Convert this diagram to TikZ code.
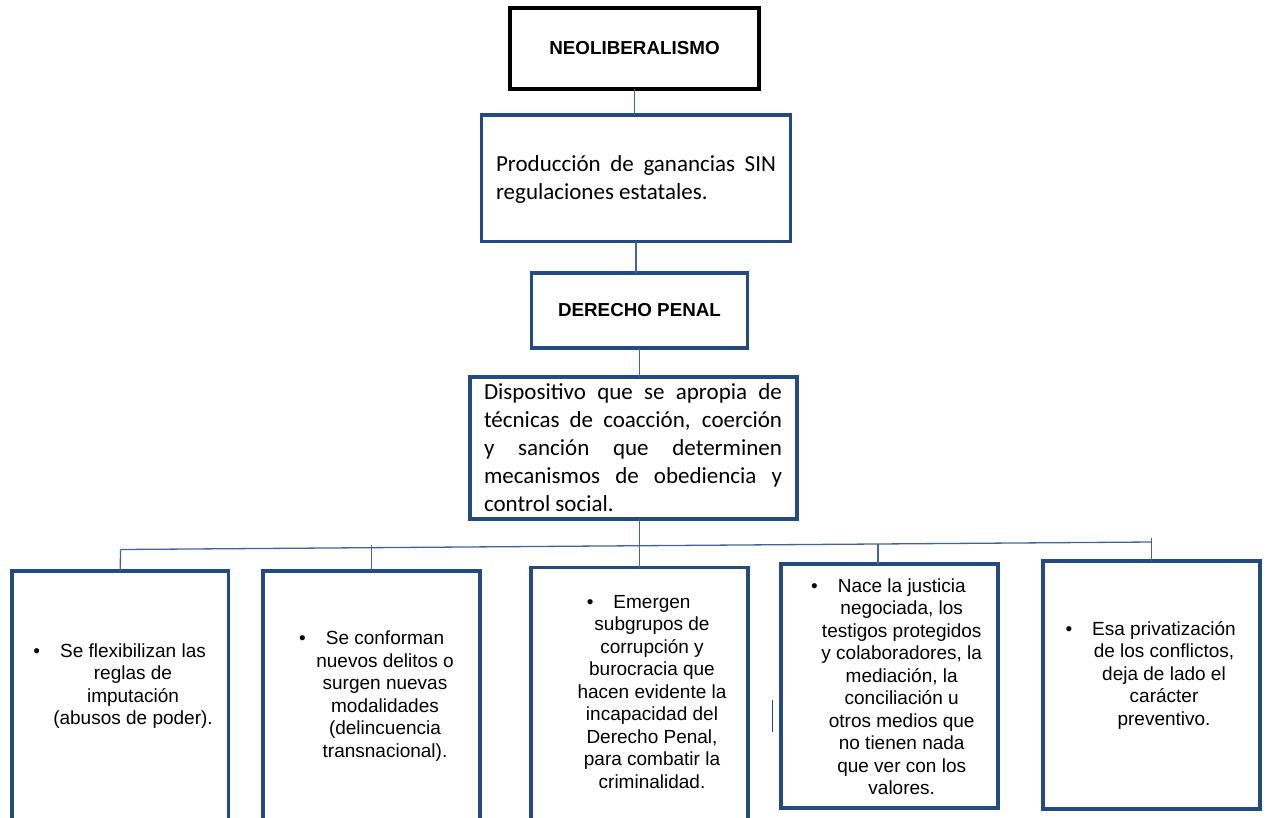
\documentclass[tikz,border=0pt]{standalone}
\usepackage{fontspec}
\setmainfont{Liberation Sans}
\newfontfamily\calibri{Carlito}
\usetikzlibrary{calc}
\definecolor{boxblue}{RGB}{36,74,128}
\definecolor{linkblue}{RGB}{66,100,152}

\begin{document}
\begin{tikzpicture}[x=1pt,y=-1pt,
  frame/.style={draw=boxblue, line width=3.6pt, inner sep=0pt, outer sep=0pt},
  titlebox/.style={draw=black, line width=4.2pt, inner sep=0pt, outer sep=0pt},
  title/.style={font=\bfseries\fontsize{18.8}{22}\selectfont},
  para/.style={font={\calibri\fontsize{23}{28}\selectfont\hyphenpenalty=10000},
               align=justify, inner sep=0pt},
  item/.style={font=\fontsize{19}{22.5}\selectfont, align=center, inner sep=0pt},
  link/.style={draw=linkblue, line width=1.3pt}]

\useasboundingbox (0,0) rectangle (1268,817);
\clip (0,0) rectangle (1268,817);

% upper chain
\node[titlebox, title, minimum width=249pt, minimum height=81pt] (neo) at (634.5,48.5) {NEOLIBERALISMO};
\node[frame, minimum width=309pt, minimum height=126.5pt] (prod) at (636,178.3) {};
\node[para, text width=280pt] (prodtxt) at (636,179.5)
  {Producción de ganancias SIN\linebreak regulaciones estatales.};
\node[frame, title, minimum width=216pt, minimum height=75pt] (dp) at (639.5,310.5) {DERECHO PENAL};
\node[frame, minimum width=327pt, minimum height=142pt] (disp) at (633.5,448) {};
\node[para, text width=298pt] (disptxt) at (633,448)
  {Dispositivo que se apropia de\linebreak técnicas de coacción, coerción\linebreak y sanción que determinen\linebreak mecanismos de obediencia y\linebreak control social.};

% lower row of boxes
\node[frame, minimum width=216.5pt, minimum height=269pt] (b1) at (120.25,705.5) {};
\node[frame, minimum width=217pt, minimum height=269pt] (b2) at (371.5,705.5) {};
\node[frame, minimum width=217pt, minimum height=272.5pt] (b3) at (639.5,703.75) {};
\node[frame, minimum width=217pt, minimum height=244pt] (b4) at (889.5,686) {};
\node[frame, minimum width=217pt, minimum height=248pt] (b5) at (1151.5,685) {};

\node[item] (t1) at (133,686)
  {\llap{\textbullet\hspace{20pt}}Se flexibilizan las\\reglas de\\imputación\\(abusos de poder).};
\node[item] (t2) at (385,696)
  {\llap{\textbullet\hspace{20pt}}Se conforman\\nuevos delitos o\\surgen nuevas\\modalidades\\(delincuencia\\transnacional).};
\node[item] (t3) at (652,691.7)
  {\llap{\textbullet\hspace{20pt}}Emergen\\subgrupos de\\corrupción y\\burocracia que\\hacen evidente la\\incapacidad del\\Derecho Penal,\\para combatir la\\criminalidad.};
\node[item] (t4) at (901.7,686.5)
  {\llap{\textbullet\hspace{20pt}}Nace la justicia\\negociada, los\\testigos protegidos\\y colaboradores, la\\mediación, la\\conciliación u\\otros medios que\\no tienen nada\\que ver con los\\valores.};
\node[item] (t5) at (1164,675)
  {\llap{\textbullet\hspace{20pt}}Esa privatización\\de los conflictos,\\deja de lado el\\carácter\\preventivo.};

% connectors
\draw[link] (neo.south) -- (neo.south |- prod.north);
\draw[link] (prod.south) -- (prod.south |- dp.north);
\draw[link] (dp.south) -- (dp.south |- disp.north);

\coordinate (busL) at (120.5,549.5);
\coordinate (busR) at (1151.5,542);
\coordinate (k2) at (371.5,544.5);
\coordinate (k4) at (878,543.5);
\coordinate (k5) at (1151.5,538);
\draw[link] (busL) -- (busR);
\draw[link] (busL) -- (b1.north);
\draw[link] (k2) -- (k2 |- b2.north);
\draw[link] (b3.north |- disp.south) -- (b3.north);
\draw[link] (k4) -- (k4 |- b4.north);
\draw[link] (k5) -- (b5.north);

% short stray stroke between the third and fourth boxes
\coordinate (m1) at (772.5,700);
\coordinate (m2) at (772.5,732);
\draw[draw=boxblue, line width=1.8pt] (m1) -- (m2);
\end{tikzpicture}
\end{document}
